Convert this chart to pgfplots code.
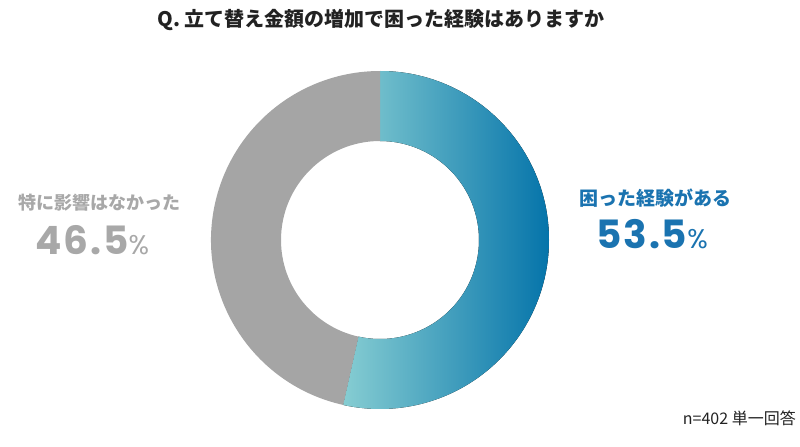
\documentclass[border=0pt]{standalone}
\usepackage{pgfplots}
\usepackage{pgfplotstable}
\pgfplotsset{compat=1.18}
\usepackage{fontspec}
\setmainfont{Noto Sans CJK JP}
\newfontfamily\numfont{Poppins}[LetterSpace=5]
\definecolor{ringgray}{HTML}{A5A5A5}
\definecolor{tealL}{HTML}{86CDD2}
\definecolor{blueD}{HTML}{0574AA}
\definecolor{lblblue}{HTML}{1A73B0}
\definecolor{lblgray}{HTML}{A8A8A8}
\definecolor{txt}{HTML}{222222}

\pgfplotstableread{
label value
affected 53.5
none 46.5
}\piedata

\begin{document}
\begin{tikzpicture}
\pgfplotstablegetelem{0}{value}\of\piedata \let\va\pgfplotsretval
\pgfplotstablegetelem{1}{value}\of\piedata \let\vb\pgfplotsretval
\pgfmathsetmacro{\ea}{90-3.6*\va}
\pgfmathsetmacro{\eb}{\ea-3.6*\vb}
\begin{axis}[
  at={(0,0)}, anchor=south west,
  x=1bp, y=1bp, xmin=0, xmax=800, ymin=0, ymax=447,
  hide axis, clip=false, scale only axis,
]
\path (axis cs:380,207) coordinate (C);
% blue segment (53.5%)
\fill[left color=tealL, right color=blueD]
  ([shift={(C)}]90:169bp) arc[start angle=90, end angle=\ea, radius=169bp]
  -- ([shift={(C)}]\ea:99bp) arc[start angle=\ea, end angle=90, radius=99bp] -- cycle;
% gray segment (46.5%)
\fill[ringgray]
  ([shift={(C)}]\ea:169bp) arc[start angle=\ea, end angle=\eb, radius=169bp]
  -- ([shift={(C)}]\eb:99bp) arc[start angle=\eb, end angle=\ea, radius=99bp] -- cycle;

\node[inner sep=0, anchor=center, text=txt, font=\bfseries\fontsize{20bp}{24bp}\selectfont]
  at (axis cs:381,427) {Q. 立て替え金額の増加で困った経験はありますか};

\node[inner sep=0, anchor=center, text=lblblue, font=\bfseries\fontsize{19bp}{23bp}\selectfont]
  at (axis cs:655.5,249) {困った経験がある};
\node[inner sep=0, anchor=base west, text=lblblue]
  at (axis cs:596,199) {\numfont\bfseries\fontsize{39bp}{40bp}\selectfont \va\mdseries\fontsize{27bp}{28bp}\selectfont\%};

\node[inner sep=0, anchor=center, text=lblgray, font=\bfseries\fontsize{18bp}{22bp}\selectfont]
  at (axis cs:99.5,244) {特に影響はなかった};
\node[inner sep=0, anchor=base west, text=lblgray]
  at (axis cs:35,193) {\numfont\bfseries\fontsize{39bp}{40bp}\selectfont \vb\mdseries\fontsize{27bp}{28bp}\selectfont\%};

\node[inner sep=0, anchor=east, text=txt, font=\fontsize{16bp}{19bp}\selectfont]
  at (axis cs:796,29) {n=402 単一回答};
\end{axis}
\pgfresetboundingbox
\path[use as bounding box] (0,0) rectangle (800bp,447bp);
\end{tikzpicture}
\end{document}
